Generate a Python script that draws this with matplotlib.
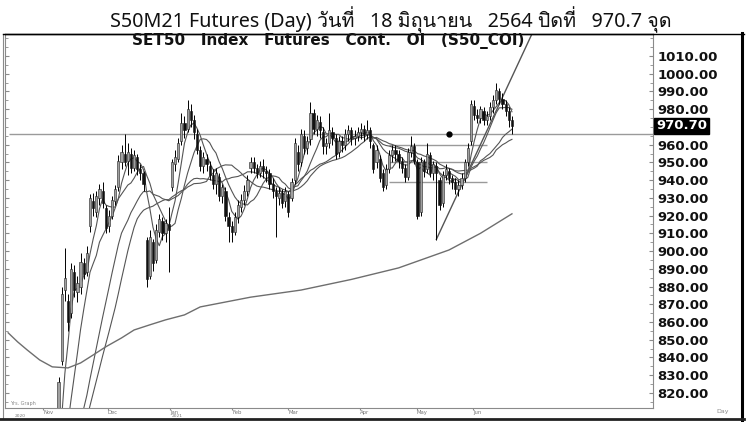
import numpy as np
import pandas as pd
import matplotlib
matplotlib.use("Agg")
import matplotlib.pyplot as plt
from matplotlib import font_manager as fm
from matplotlib.lines import Line2D

# ---------------- data ----------------
opens = [762,760,757,752,755,758,750,746,752,756,760,754,750,753,761,776,
         800,838,878,872,865,888,877,880,893,888,914,928,922,930,934,924,914,920,928,936,
         950,955,951,955,947,953,946,944,906,886,905,895,911,917,910,915,936,949,952,962,
         972,969,979,974,966,957,948,952,948,943,938,942,931,934,919,914,911,919,925,929,
         934,947,950,947,944,948,945,944,938,934,930,933,928,932,930,940,956,950,965,958,
         963,978,969,973,967,959,961,967,964,956,962,960,966,968,964,965,967,969,966,968,
         960,950,952,944,937,946,954,957,955,951,947,942,956,959,950,922,950,946,954,944,
         948,940,927,943,945,941,939,935,937,941,950,962,982,977,975,979,974,976,981,985,
         990,986,983,979,974]
highs = [766,763,760,758,761,760,752,755,759,763,762,756,754,762,777,794,
         829,880,902,876,893,892,886,899,896,903,932,933,934,938,939,926,923,931,937,954,
         960,966,961,958,957,955,949,945,908,912,907,915,921,919,918,925,952,957,964,978,
         976,985,983,977,969,959,956,955,951,946,947,944,938,936,922,917,922,929,932,937,
         943,953,953,949,951,952,948,946,941,936,936,935,936,934,941,964,960,969,968,965,
         984,980,977,976,970,964,978,970,966,965,965,969,971,970,968,970,972,971,974,970,
         961,960,954,946,949,957,960,960,957,953,949,958,965,961,952,953,952,961,956,951,
         950,942,945,949,947,943,941,940,944,952,961,985,985,980,982,981,979,984,988,995,
         992,989,985,981,976]
lows = [756,754,749,750,752,747,742,744,750,753,751,746,744,751,759,774,
        798,836,872,855,862,874,871,876,884,886,911,920,919,926,924,910,911,918,926,934,
        946,948,943,944,945,943,940,934,880,884,889,893,908,906,905,888,934,945,950,960,
        964,967,970,963,955,945,944,945,940,935,932,928,927,917,905,905,909,916,922,926,
        931,944,944,941,942,941,939,935,930,908,926,924,925,919,928,938,945,948,955,955,
        960,966,965,964,955,955,958,960,952,953,956,957,962,960,960,962,963,962,963,958,
        944,947,939,934,935,944,950,951,947,944,939,940,953,949,918,920,942,944,942,940,
        906,923,925,940,938,935,932,931,935,939,948,960,974,972,972,971,971,974,978,983,
        983,980,976,970,966]
closes = [760,757,752,755,758,750,746,752,756,760,754,750,752,760,775,792,
          826,876,885,860,890,878,882,894,887,899,930,924,931,935,927,913,920,929,935,951,
          956,950,956,947,954,946,944,938,884,908,893,912,918,910,916,912,950,953,961,972,
          968,980,974,967,957,948,953,949,943,938,944,931,936,920,914,911,919,926,929,934,
          940,950,947,944,948,945,944,938,934,931,933,927,934,922,939,961,949,966,958,962,
          978,969,974,968,959,961,968,964,955,962,960,966,968,964,965,967,969,966,968,962,
          946,957,941,936,946,954,957,955,951,947,942,956,959,951,920,950,945,955,944,949,
          944,926,943,946,941,939,935,937,941,950,958,983,977,975,980,974,976,981,985,991,
          986,983,979,974,970.7]

ma_windows = [5, 10, 20, 25]

ma200_idx = [0, 3, 6, 10, 14, 19, 23, 27, 31, 36, 40, 45, 50, 56, 61, 77, 93, 109, 124, 140, 150, 160]
ma200_val = [853.9, 848.8, 844.3, 838.6, 834.7, 834.1, 836.9, 841.4, 846.0, 851.0, 855.5, 858.4,
             861.2, 864.0, 868.5, 874.0, 878.0, 884.0, 890.5, 900.6, 910.0, 921.0]

resistance_level = 966.0
fib_levels = [960.0, 950.0, 939.0]
fib_start, fib_end = 121, 152
trend_x = [136, 166.5]
trend_y = [906.6, 1023.0]
marker_x = [140]
marker_y = [966.0]

month_pos = [11.1, 31.7, 51.4, 71.1, 88.9, 111.7, 129.8, 147.6]
month_lbl = ["Nov", "Dec", "Jan", "Feb", "Mar", "Apr", "May", "Jun"]
year_px = [15, 172]
year_lbl = ["2020", "2021"]

price_ticks = [820, 830, 840, 850, 860, 870, 880, 890, 900, 910, 920, 930, 940, 950, 960,
               980, 990, 1000, 1010]
last_close = 970.7

title = "S50M21 Futures (Day) วันที่   18 มิถุนายน   2564 ปิดที่   970.7 จุด"
subtitle = "SET50   Index   Futures   Cont.   OI   (S50_COI)"

# ---------------- fonts ----------------
def _has_thai(path):
    try:
        from fontTools.ttLib import TTFont
        f = TTFont(path, fontNumber=0, lazy=True)
        cm = f.getBestCmap()
        return cm is not None and 0x0E17 in cm and 0x0E34 in cm
    except Exception:
        return False

thai_fams = []
for fe in fm.fontManager.ttflist:
    if fe.name not in thai_fams and _has_thai(fe.fname):
        thai_fams.append(fe.name)

# ---------------- figure ----------------
W, H = 750, 422
fig = plt.figure(figsize=(W / 100, H / 100), dpi=100)
fig.patch.set_facecolor("white")

def fx(px):
    return px / W

def fy(py):
    return 1 - py / H

L, R, T, B = 5, 653, 34, 408
ax = fig.add_axes([fx(L), fy(B), fx(R) - fx(L), fy(T) - fy(B)])
ax.set_facecolor("white")
ax.set_ylim(811.5, 1022.4)
ax.set_xlim(-1, 204.8)

n = len(closes)
idx = np.arange(n)
o = np.array(opens, float)
h = np.array(highs, float)
l = np.array(lows, float)
c = np.array(closes, float)

# moving averages
cs = pd.Series(c)
for w in ma_windows:
    ma = cs.rolling(w).mean()
    ax.plot(idx, ma, color="#555555", lw=0.8, zorder=2)
ax.plot(ma200_idx, ma200_val, color="#6e6e6e", lw=1.0, zorder=2)

# horizontal & trend lines
ax.hlines(resistance_level, 0.3, 204.8, color="#9a9a9a", lw=1.0, zorder=1)
for lv in fib_levels:
    ax.hlines(lv, fib_start, fib_end, color="#9a9a9a", lw=1.0, zorder=1)
ax.plot(trend_x, trend_y, color="#555555", lw=1.0, zorder=2)
ax.plot(marker_x, marker_y, "o", color="black", ms=3.5, zorder=4)

# candles
up = c >= o
ax.vlines(idx, l, h, color="black", lw=0.7, zorder=3)
body_lo = np.minimum(o, c)
body_h = np.maximum(np.abs(c - o), 0.6)
ax.bar(idx[up], body_h[up], bottom=body_lo[up], width=0.7, color="#a0a0a0",
       edgecolor="#222222", linewidth=0.4, zorder=3)
ax.bar(idx[~up], body_h[~up], bottom=body_lo[~up], width=0.7, color="#111111",
       edgecolor="#111111", linewidth=0.4, zorder=3)

# axes styling
for s in ["left", "right", "bottom"]:
    ax.spines[s].set_color("#8a8a8a")
    ax.spines[s].set_linewidth(0.8)
ax.spines["top"].set_color("black")
ax.spines["top"].set_linewidth(1.0)

ax.set_yticks(price_ticks)
ax.set_yticklabels([f"{v:.2f}" for v in price_ticks])
ax.set_yticks(np.arange(815, 1021, 5), minor=True)
ax.tick_params(axis="y", which="both", left=True, right=True, labelleft=False,
               labelright=True, direction="in", color="#8a8a8a")
ax.tick_params(axis="y", which="major", length=3, pad=3, labelsize=9.5, labelcolor="#111111")
ax.tick_params(axis="y", which="minor", length=2)
for t in ax.get_yticklabels():
    t.set_fontweight("bold")
    t.set_family("DejaVu Sans")

ax.set_xticks(month_pos)
ax.set_xticklabels(month_lbl)
ax.tick_params(axis="x", direction="out", length=1.5, pad=0, labelsize=3.8,
               labelcolor="#777777", color="#8a8a8a")
for t in ax.get_xticklabels():
    t.set_horizontalalignment("left")

for xp, yl in zip(year_px, year_lbl):
    fig.text(fx(xp), fy(416.3), yl, fontsize=3.2, color="#777777", va="center", ha="left")

# last price box
ax.text(1.0 + 3 / (R - L), last_close, f"{last_close:.2f}", transform=ax.get_yaxis_transform(),
        fontsize=9.5, fontweight="bold", color="white", va="center", ha="left",
        family="DejaVu Sans", clip_on=False,
        bbox=dict(boxstyle="square,pad=0.12", facecolor="black", edgecolor="black"))

# frame lines
fig.add_artist(Line2D([fx(3), fx(3)], [fy(34), fy(418)], color="#8a8a8a", lw=0.8))
fig.add_artist(Line2D([fx(3), fx(744)], [fy(34), fy(34)], color="black", lw=1.0))
fig.add_artist(Line2D([fx(742), fx(742)], [fy(33), fy(420)], color="black", lw=2.2))
fig.add_artist(Line2D([fx(0), fx(744)], [fy(419.3), fy(419.3)], color="#222222", lw=2.0))

# texts
fig.text(fx(391), fy(20), title, ha="center", va="center", fontsize=14.2,
         family=["Noto Sans"] + thai_fams + ["DejaVu Sans"], color="#111111")
fig.text(fx(328), fy(41), subtitle, ha="center", va="center", fontsize=11,
         fontweight="bold", family="DejaVu Sans", color="#111111")
fig.text(fx(723), fy(411), "Day", ha="center", va="center", fontsize=4.5, color="#888888")
fig.text(fx(10), fy(404), "Yrs. Graph", ha="left", va="center", fontsize=3.5, color="#888888")

fig.savefig("out.png", dpi=100, facecolor="white")
